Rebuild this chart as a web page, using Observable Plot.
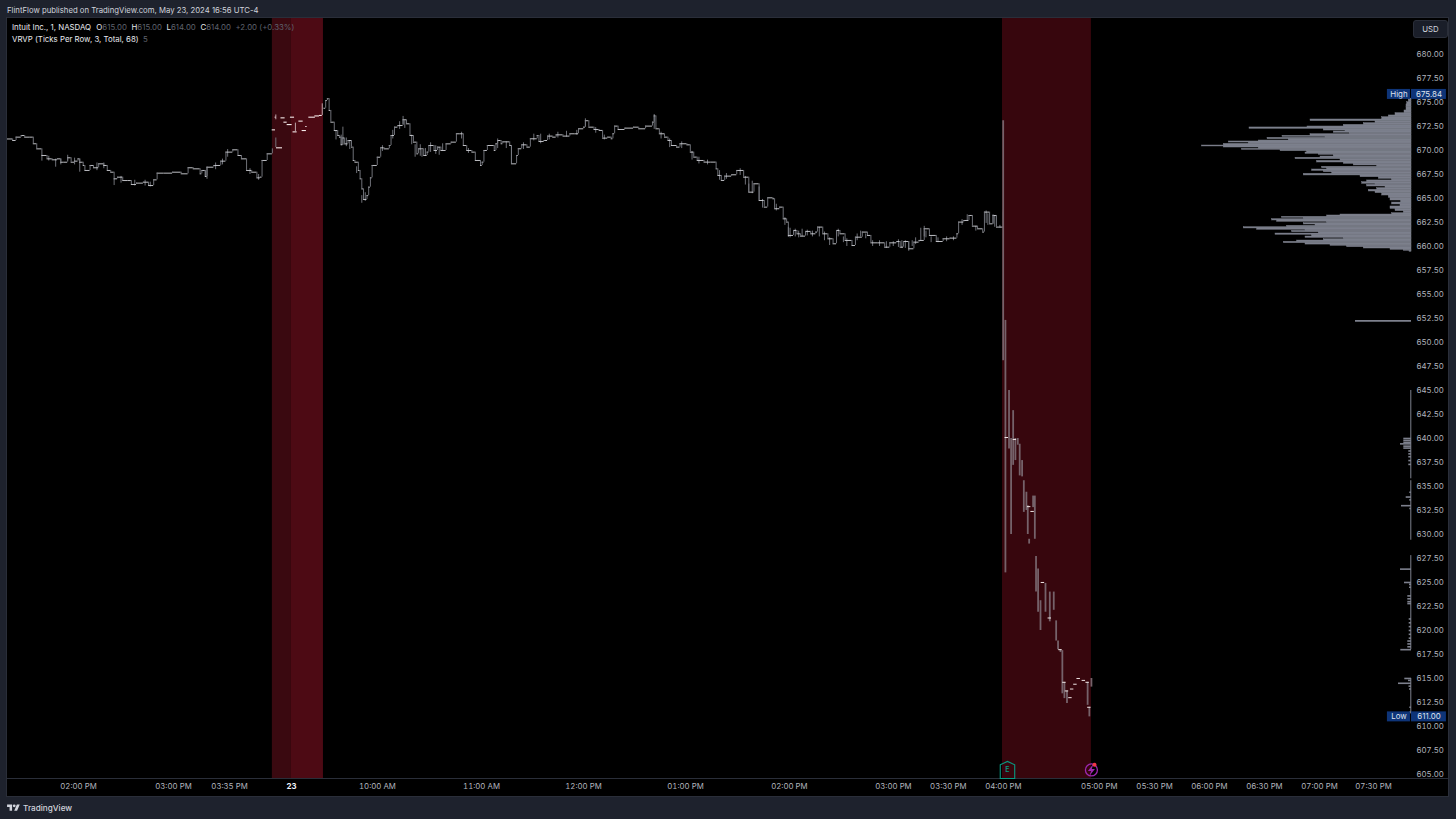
<!DOCTYPE html>
<html><head><meta charset="utf-8">
<script src="https://cdn.jsdelivr.net/npm/d3@7"></script>
<script src="https://cdn.jsdelivr.net/npm/@observablehq/plot@0.6"></script>
<style>
html,body{margin:0;padding:0;background:#1e222d;width:1456px;height:819px;overflow:hidden;font-family:Inter,sans-serif}
#head{position:absolute;left:7px;top:4px;font-size:7.75px;line-height:12px;color:#d1d4dc;white-space:nowrap}
#chart{position:absolute;left:7px;top:18px;width:1441px;height:778px;background:#000;outline:1px solid #2a2e39}
#legend{position:absolute;left:12px;top:22px;font-size:7.85px;line-height:11.5px;color:#e8e9ee;white-space:nowrap}
#legend i{font-style:normal;color:#5f626d}
#legend b{font-weight:400;margin-left:2.4px}
#legend b.first{margin-left:3px}
#usd{position:absolute;left:1413px;top:20px;width:33px;height:16px;line-height:16px;text-align:center;font-size:7.8px;color:#d1d4dc;background:#1a1e29;border:1px solid #2a2e39;border-radius:3px}
#brand{position:absolute;left:7px;top:803px;height:10px;display:flex;align-items:center;gap:3px;color:#d1d4dc;font-size:8.2px;font-weight:500}
#chart svg{display:block;overflow:visible}
</style></head><body>
<div id="head">FlintFlow published on TradingView.com, May 23, 2024 16:56 UTC-4</div>
<div id="chart"></div>
<div id="legend">Intuit Inc., 1, NASDAQ <b class="first">O</b><i>615.00</i> <b>H</b><i>615.00</i> <b>L</b><i>614.00</i> <b>C</b><i>614.00</i> &nbsp;<i>+2.00 (+0.33%)</i><br>VRVP (Ticks Per Row, 3, Total, 68) &nbsp;<i>5</i></div>
<div id="usd">USD</div>
<div id="brand"><svg width="13" height="10" viewBox="0 0 36 28" fill="#d1d4dc"><path d="M14 22H7V11H0V4h14v18zM28 22h-8l7.5-18h8L28 22z"/><circle cx="20" cy="8" r="4"/></svg><span>TradingView</span></div>
<script>
// Minute-bar slot numbers and closing prices
const priorBars = [0,3,5,8,10,13,15,17,20,23,26,29,31,33,35,37,39,41,42,44,45,48,50,53,56,58,60,62,64,67,70,72,75,79,82,85,87,91,96,101,105,108,112,113,115,116,120,124,127,131,134,136,139,142,145,147,148,151,154];
const priorClose = [671.2,671.04,671.39,671.56,671.39,671.39,670.7,670.17,669.48,669.13,669.03,669.13,668.78,668.78,669.24,668.78,668.89,669.13,668.78,668.44,667.92,668.44,668.2,668.61,668.44,667.92,667.74,667.05,667.22,666.87,666.87,666.46,666.6,666.7,666.35,666.94,667.64,667.64,667.74,667.57,668.2,668.09,667.57,667.92,667.29,668.26,668.44,668.89,669.83,670.07,669.48,669.13,667.92,667.74,667.15,667.22,668.96,669.65,670.17];
const sessionBars = [184,185,186,187,188,190,192,193,194,195,196,198,200,201,202,204,205,206,207,209,210,211,212,215,217,219,222,223,225,227,230,232,234,236,238,239,242,244,245,248,250,252,255,258,261,263,265,267,270,272,275,276,277,279,282,283,284,285,287,288,292,293,296,297,299,302,304,308,309,312,314,317,319,323,327,330,332,335,336,338,341,344,346,349,351,352,353,355,359,364,367,371,375,376,377,379,382,384,386,389,391,395,397,399,401,405,409,412,413,415,417,421,424,428,431,434,437,440,442,445,446,449,451,453,454,457,459,461,464,467,470,471,474,477,480,482,484,487,491,493,497,500,502,506,510,513,517,519,521,524,527,530,533,536,540,544,548,552,553,556,559,561,564,567,568,571,573,575,577,579];
const sessionClose = [674.4,675.2,675.4,674.17,672.95,672.08,671.56,671.39,670.6,671.3,670.69,671.04,670.35,668.96,668.78,667.92,667.05,666.0,664.9,665.3,666.18,667.15,668.44,669.3,670.28,670.17,670.52,671.56,672.43,672.6,673.2,672.78,671.56,670.87,669.65,670.17,669.48,669.83,670.52,670,670.35,670,670.69,670.87,671.74,671.74,670.52,670,669.83,668.96,668.44,668.78,670,670.52,670.52,670,670.7,671.04,670.7,670.9,670.52,668.61,669.48,670.18,670.59,670.35,671.22,671.56,670.94,671.04,671.5,671.39,671.63,671.5,671.74,671.74,672.26,672.43,673.1,672.43,672.19,672.09,671.29,671.39,671.22,671.74,672.54,672.19,672.33,672.43,672.26,672.54,672.95,673.6,672.26,671.74,671.39,671.04,670.52,670.35,670.7,670.59,669.83,669.31,668.96,668.79,668.79,668.09,667.4,666.88,667.33,667.47,667.92,667.22,665.66,666.53,664.79,664.1,665.07,664.97,663.93,664.1,662.88,662.54,661.15,661.67,661.32,661.08,661.57,661.32,661.5,662.02,661.32,660.8,660.28,661.67,661.32,660.63,660.1,660.97,661.5,661.15,660.38,660.38,659.93,660.38,660.52,659.93,660.52,659.76,660.45,660.63,661.84,661.15,660.52,660.8,660.87,661.32,662.54,662.71,663.23,662.12,661.84,661.5,663.58,662.36,663.23,662.02,662.02,663.58];
// Bars with a visible wick
const wickBars = [20,28,42,62,115,116,156,195,206,208,230,237,240,293,336,376,431,437,454,520,524,533,569,573,579,
  24,31,35,39,52,56,66,74,80,83,121,125,128,141,146,
  191,194,197,199,203,218,224,228,231,235,241,243,246,249,251,253,264,268,
  285,290,300,306,310,315,320,325,331,342,347,380,385,392,398,402,407,414,418,426,429,433,
  439,447,452,455,458,460,462,465,468,472,475,478,483,486,488,494,496,499,503,507,511,515,518,522,526,528,531,534,537,541,546,550,555,558,563,570,574,577];
const wickHigh = [669.5,669.1,669.1,667.05,667.9,668.26,671.3,672.43,665.3,665.6,673.55,670.6,670.6,670.5,673.3,673.75,666.5,666.2,662.0,660.6,660.5,662.1,663.7,663.3,663.8,
  669.4,669.1,669.5,669.2,668.7,668.7,667.3,666.9,666.9,666.7,668.7,669.1,670.1,668.1,667.5,
  672,671.6,671.3,671,668.3,670.5,672.1,673,673.1,671.6,670,670.2,670.8,670.5,670.3,670.7,671.9,670.2,
  671.2,670.9,670.8,671.7,671.7,671.7,671.9,672,672.1,672.4,671.6,671.9,671.2,670.9,669.9,669.3,669,667.9,667.6,668.1,667.3,666.8,
  664.9,664.4,663,661.9,661.8,661.6,661.8,661.7,661.6,662,661.5,660.9,661.8,661,660.8,661.3,661.6,661.3,660.6,660.6,660.5,660.5,660.7,660.6,660.6,660.9,661.9,661.6,661,660.9,661,661,662.8,663.3,662.1,663.4,663.2,662.2];
const wickLow = [668.89,668.26,667.74,666.35,667.29,667.0,670.3,670.52,664.5,664.7,672.7,669.3,669.4,668.61,672.43,672.2,665.6,664.8,660.95,659.8,659.5,661.0,662.4,662.3,662.0,
  668.9,668.5,668.9,668.5,667.9,668.1,666.6,666.3,666.3,666.2,668,668.5,669.3,667.5,666.9,
  671.1,670.5,670.4,670.1,667.6,669.9,671.2,672.2,672.3,670.6,669.3,669.4,669.8,669.6,669.5,669.9,671.2,669.7,
  670.2,670.2,670.1,671,670.7,671.1,671.3,671.4,671.6,671.8,671.1,671.2,670.3,670.2,669,668.6,668.5,666.9,667,667.4,666.4,665.5,
  664,663.7,662.2,660.9,661,660.9,661,661.1,661,661,660.6,660.1,661,660.4,660,660.6,661,660.8,660,660,659.8,660,659.9,659.8,660,660.2,660.6,660.9,660.4,660.4,660.5,660.6,662.2,662.7,661.6,662.2,662,661.9];
// Pre-market prints
const preStart = [153.9,156.4,155.6,159,164.5,160.7,162.6,166,169.4,171.3,173.4,175.2,178.7,181.4];
const preEnd = [155.8,159.9,156.4,161.4,166.9,162.6,165.5,168.4,171.9,173.8,174.2,179,181.4,183];
const prePrice = [672.15,670.28,673.47,673.4,673.47,672.95,672.7,671.94,673.06,672.08,672.5,673.47,673.6,673.65];
const preWickBar = [156,167.4,183];
const preWickHigh = [673.7,672.85,674.86];
const preWickLow = [673.2,671.94,673.65];
// After-hours bars
const afterBars = [578.9,580.2,582.3,583.5,584.7,586,587.4,588.5,589.9,590.9,592.4,593.2,594,596.3,597.3,598,599.2,600.6,603.5,606,608.3,609.7,610.8,612.2,613.3,614.5,616,628,629,630.2];
const afterHigh = [673.1,652.3,645,640,642.9,640,640,639.4,637.7,635.6,634.4,633,629.5,634,634,627.7,626.4,623.1,624.9,624,624,621,618.9,618,617.9,614.6,613.7,614.6,612,615];
const afterLow = [648.1,626,638.9,630,637.2,637.7,639.3,636.1,636,632.3,632.5,630,629,632.8,629.5,624,621.9,620,621.9,620.9,622.1,618.9,618,617.7,613.4,612.9,612.4,612.2,611,614.1];
const afterDashBar = [581,585.7,594,596,602,606,612.2,614.5,616,618,619,620.9,622.8,625.8,628,629];
const afterDashPrice = [640.1,639.9,632.9,632.4,625,621.3,618,614.6,613.7,613,613.9,614.4,615,614.8,614.6,612];
// Volume profile rows
const profilePrice = [675.4,675.28,675.03,674.79,674.51,674.17,673.89,673.65,673.47,673.23,673.06,672.85,672.67,672.5,672.4,672.26,672.08,671.98,671.84,671.7,671.53,671.42,671.32,671.18,671.04,670.94,670.83,670.69,670.52,670.42,670.31,670.17,670.07,669.93,669.79,669.65,669.55,669.37,669.24,669.1,668.92,668.75,668.61,668.44,668.3,668.16,668.02,667.88,667.74,667.57,667.4,667.22,667.05,666.88,666.7,666.53,666.42,666.25,666.08,665.9,665.73,665.56,665.31,665.07,664.79,664.58,664.38,664.17,663.92,663.68,663.47,663.33,663.23,663.09,662.99,662.85,662.71,662.57,662.43,662.29,662.15,662.01,661.88,661.74,661.63,661.49,661.35,661.22,661.04,660.9,660.76,660.62,660.49,660.35,660.2,660.07,659.93,659.79,659.65,659.55,659.45];
const profileVolume = [2.7,2.7,4.3,5,5,7,16,22.7,29.3,101,36,47.7,67.7,104,162,87.7,66,77.7,61.7,101,129,86,144,122.7,152.7,182.7,162.7,187.7,209.3,187.7,152.7,169.3,131,104.3,106,92.7,77.7,91,116,71,94.3,67.7,57.7,34.3,89.3,84.3,99.3,87.7,79.3,107.7,51,32.7,19.3,44.3,49.3,36,44.3,26,34.3,42.7,36,29.3,22.7,21,10.3,19.3,11,21,16,7.7,19.3,71,84.3,129.3,107.7,139.3,134.3,84.3,107.7,96,124.3,167.7,154.3,106,119.3,92.7,136,99.3,106,67.7,87.7,114.3,127.7,106,81,64.3,47.7,21,7.7,2,2];
const lowProfilePrice = [652.25,640,639.8,639.6,639.44,639.2,639,638.7,638.4,638.1,637.7,637.3,634.4,633.9,633.6,633,632.7,626.39,625,624.8,624.5,623.6,623.3,623,622.8,621.2,620.8,620.4,620,619.6,619.2,618.9,618.6,618.3,618,615,614.8,614.5,614.2,613.9,612,611.5];
const lowProfileVolume = [56,7.7,7.7,7.7,11,7.7,7.7,2.7,2.7,2.7,2.7,2.7,1.7,5.3,1.7,10,1.7,11,7,2,2,3.7,3.7,3.7,3.7,2.3,2.3,2.3,2.3,2.3,2.3,3.7,3.7,3.7,10.7,6.7,3,13,2.5,2,1.7,1.7];
const spineTop = [645,635.6,627.8,615];
const spineBottom = [635.8,629.4,618,611.3];
// Axes
const timeTicks = [41.3,96.5,129.1,215.1,275.6,334.9,394.2,454.6,515.1,547,579,634.8,666.9,698.8,730.8,762.8,794.2];
const timeLabels = ["02:00 PM","03:00 PM","03:35 PM","10:00 AM","11:00 AM","12:00 PM","01:00 PM","02:00 PM","03:00 PM","03:30 PM","04:00 PM","05:00 PM","05:30 PM","06:00 PM","06:30 PM","07:00 PM","07:30 PM"];
const dayTick = [165.1];
const priceTicks = [605,607.5,610,612.5,615,617.5,620,622.5,625,627.5,630,632.5,635,637.5,640,642.5,645,647.5,650,652.5,655,657.5,660,662.5,665,667.5,670,672.5,675,677.5,680];
// Extended-hours bands
const bandStart = [154,165.1,578.5];
const bandEnd = [165.1,183.7,630.2];
const bandFill = ["#3a0910","#4d0a14","#37060d"];

const lastSlot = 816.3, pxPerSlot = 1.72;
const idx = a => a.map((_, i) => i);
const steps = idx(sessionBars).slice(0, -1);
const priorSteps = idx(priorBars).slice(0, -1);
const profileRows = idx(profilePrice).slice(0, -1);
const hStyle = {stroke: "#d4d5da", strokeWidth: 0.9};
const vStyle = {stroke: "#7a7d85", strokeWidth: 0.9};
const tagFont = {fontSize: 7.9, fill: "#dfe3ee", fontFamily: "Inter,sans-serif"};
const house = {draw(c, s) { const r = Math.sqrt(s); c.moveTo(-r*.85, -r*.6); c.lineTo(0, -r); c.lineTo(r*.85, -r*.6); c.lineTo(r*.85, r); c.lineTo(-r*.85, r); c.closePath(); }};
const bolt = {draw(c, s) { const r = Math.sqrt(s); c.moveTo(r*.35, -r); c.lineTo(-r*.55, r*.15); c.lineTo(-r*.05, r*.15); c.lineTo(-r*.35, r); c.lineTo(r*.55, -r*.15); c.lineTo(r*.05, -r*.15); c.closePath(); }};

const chart = Plot.plot({
  width: 1441, height: 778,
  marginLeft: 0, marginRight: 37, marginTop: 0, marginBottom: 18,
  style: {background: "#000", fontFamily: "Inter,sans-serif", fontSize: "7.8px", color: "#b2b5be"},
  x: {domain: [0, lastSlot], axis: null},
  y: {domain: [604.58, 683.75], axis: null},
  marks: [
    Plot.rect(idx(bandStart), {x1: i => bandStart[i], x2: i => bandEnd[i], fill: i => bandFill[i]}),
    Plot.ruleY([604.58], {x1: 0, x2: 1441 / pxPerSlot, stroke: "#2a2e39"}),
    // price series
    Plot.ruleX(idx(wickBars), {x: i => wickBars[i], y1: i => wickHigh[i], y2: i => wickLow[i], ...vStyle}),
    Plot.ruleY(priorSteps, {y: i => priorClose[i], x1: i => priorBars[i], x2: i => priorBars[i + 1], ...hStyle}),
    Plot.ruleX(priorSteps, {x: i => priorBars[i + 1], y1: i => priorClose[i], y2: i => priorClose[i + 1], ...vStyle}),
    Plot.ruleY(steps, {y: i => sessionClose[i], x1: i => sessionBars[i], x2: i => sessionBars[i + 1], ...hStyle}),
    Plot.ruleX(steps, {x: i => sessionBars[i + 1], y1: i => sessionClose[i], y2: i => sessionClose[i + 1], ...vStyle}),
    Plot.ruleY(idx(preStart), {y: i => prePrice[i], x1: i => preStart[i], x2: i => preEnd[i], stroke: "#f5eaea", strokeWidth: 1.1}),
    Plot.ruleX(idx(preWickBar), {x: i => preWickBar[i], y1: i => preWickHigh[i], y2: i => preWickLow[i], stroke: "#bca4a8", strokeWidth: 1}),
    Plot.ruleX(idx(afterBars), {x: i => afterBars[i], y1: i => afterHigh[i], y2: i => afterLow[i], stroke: "#75626a", strokeWidth: 1.8}),
    Plot.ruleY(idx(afterDashBar), {y: i => afterDashPrice[i], x1: i => afterDashBar[i] - 1, x2: i => afterDashBar[i] + 1, stroke: "#f0e6e6", strokeWidth: 1}),
    // volume profile
    Plot.rect(profileRows, {y1: i => profilePrice[i], y2: i => profilePrice[i + 1], x1: lastSlot, x2: i => lastSlot - profileVolume[i] / pxPerSlot, fill: "#7d808d", stroke: "#7d808d", strokeWidth: 0.45}),
    Plot.ruleY(idx(lowProfilePrice), {y: i => lowProfilePrice[i], x1: lastSlot, x2: i => lastSlot - lowProfileVolume[i] / pxPerSlot, stroke: "#7d808d", strokeWidth: 1.6}),
    Plot.ruleX(idx(spineTop), {x: lastSlot - 0.4, y1: i => spineTop[i], y2: i => spineBottom[i], stroke: "#7d808d", strokeWidth: 1}),
    // axes
    Plot.axisY({anchor: "right", ticks: priceTicks, tickSize: 0, tickPadding: 5, tickFormat: d => d.toFixed(2), label: null, fill: "#b2b5be", fontSize: 7.8}),
    Plot.axisX({anchor: "bottom", ticks: timeTicks, tickSize: 0, tickPadding: 5, tickFormat: d => timeLabels[timeTicks.indexOf(d)], label: null, fill: "#b2b5be", fontSize: 7.8}),
    Plot.axisX({anchor: "bottom", ticks: dayTick, tickSize: 0, tickPadding: 5, tickFormat: () => "23", label: null, fill: "#f0f3fa", fontWeight: 700, fontSize: 7.8}),
    // high and low tags
    Plot.rect([675.84, 611], {x1: 802.3, x2: 815.7, y1: d => d - 0.52, y2: d => d + 0.52, fill: "#0e3478"}),
    Plot.rect([675.84, 611], {x1: 816.3, x2: 836.6, y1: d => d - 0.52, y2: d => d + 0.52, fill: "#0e3478"}),
    Plot.text([675.84, 611], {x: 809, y: d => d, text: d => d > 640 ? "High" : "Low", ...tagFont}),
    Plot.text([675.84, 611], {x: 826.5, y: d => d, text: d => d.toFixed(2), ...tagFont}),
    // event icons
    Plot.dot([605.47], {x: 581.4, y: d => d, symbol: house, r: 4.8, stroke: "#089981", strokeWidth: 1.1}),
    Plot.text([605.47], {x: 581.4, y: d => d, text: () => "E", fill: "#089981", fontSize: 7, fontWeight: 600}),
    Plot.dot([605.47], {x: 630.2, y: d => d, r: 6, stroke: "#9c27b0", strokeWidth: 1.3}),
    Plot.dot([605.47], {x: 630.2, y: d => d, symbol: bolt, r: 3.6, fill: "#9c27b0"}),
    Plot.dot([606.0], {x: 632, y: d => d, r: 2, fill: "#f23645"})
  ]
});
document.getElementById("chart").appendChild(chart);
</script>
</body></html>
